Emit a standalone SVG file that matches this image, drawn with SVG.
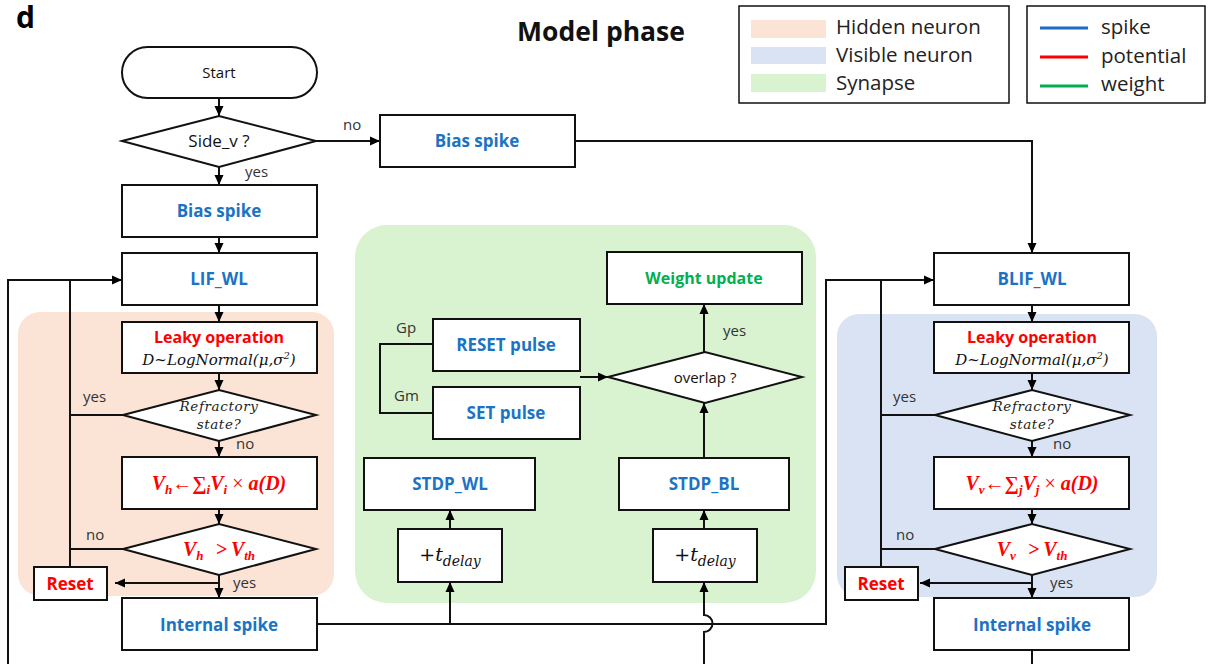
<svg xmlns="http://www.w3.org/2000/svg" width="1210" height="664" viewBox="0 0 1210 664">
<defs>
<marker id="ah" viewBox="0 0 10 10" refX="10" refY="5" markerWidth="10" markerHeight="10" markerUnits="userSpaceOnUse" orient="auto">
<path d="M0,0.5 L10,5 L0,9.5 Z" fill="#000"/>
</marker>
<style>
.box{fill:#fff;stroke:#111;stroke-width:2}
.ln{fill:none;stroke:#111;stroke-width:2}
.ar{fill:none;stroke:#111;stroke-width:2;marker-end:url(#ah)}
.sans{font-family:"Open Sans","Noto Sans","Liberation Sans",sans-serif}
.blue{font-family:"Open Sans","Noto Sans","Liberation Sans",sans-serif;font-weight:700;font-size:17px;fill:#1c73c4;text-anchor:middle}
.red{font-family:"Open Sans","Noto Sans","Liberation Sans",sans-serif;font-weight:700;font-size:16px;fill:#ff0000;text-anchor:middle}
.grn{font-family:"Open Sans","Noto Sans","Liberation Sans",sans-serif;font-weight:700;font-size:16px;fill:#00b050;text-anchor:middle}
.lbl{font-family:"Open Sans","Noto Sans","Liberation Sans",sans-serif;font-size:15px;fill:#333}
.blk{font-family:"Open Sans","Noto Sans","Liberation Sans",sans-serif;font-size:15px;fill:#111;text-anchor:middle}
.math{font-family:"DejaVu Serif","Liberation Serif",serif;font-style:italic;font-size:15px;fill:#111;text-anchor:middle}
.refr{font-family:"DejaVu Serif","Liberation Serif",serif;font-style:italic;font-size:13.5px;letter-spacing:0.6px;fill:#222;text-anchor:middle}
.tdl{font-family:"DejaVu Serif","Liberation Serif",serif;font-size:19px;fill:#111;text-anchor:middle}
.rmath{font-family:"Liberation Serif","DejaVu Serif",serif;font-style:italic;font-weight:700;font-size:20px;fill:#ff0000;text-anchor:middle}
.leg{font-family:"Open Sans","Noto Sans","Liberation Sans",sans-serif;font-size:20.5px;fill:#222}
.rst{font-family:"Open Sans","Noto Sans","Liberation Sans",sans-serif;font-weight:700;font-size:17px;fill:#ff0000;text-anchor:middle}
</style>
</defs>
<rect width="1210" height="664" fill="#fff"/>

<g id="panel-letter"><text x="16" y="28" class="sans" style="font-size:30px;font-weight:700" fill="#000">d</text></g>
<g id="title"><text x="601" y="41" class="sans" style="font-size:26.5px;font-weight:700" fill="#111" text-anchor="middle">Model phase</text></g>

<g id="legend-regions">
<rect x="739" y="6" width="270" height="97" fill="#fff" stroke="#111" stroke-width="1.5"/>
<rect x="751" y="20" width="75" height="18" fill="#fbe3d6"/>
<rect x="751" y="47" width="75" height="17" fill="#dae3f3"/>
<rect x="751" y="74" width="75" height="18" fill="#d9f2d0"/>
<text x="836" y="34" class="leg">Hidden neuron</text>
<text x="836" y="62" class="leg">Visible neuron</text>
<text x="836" y="90" class="leg">Synapse</text>
</g>
<g id="legend-lines">
<rect x="1027" y="6" width="178" height="97" fill="#fff" stroke="#111" stroke-width="1.5"/>
<line x1="1040" y1="28" x2="1088" y2="28" stroke="#1c6fc0" stroke-width="3"/>
<line x1="1040" y1="57" x2="1088" y2="57" stroke="#ff0000" stroke-width="3"/>
<line x1="1040" y1="86" x2="1088" y2="86" stroke="#00b050" stroke-width="3"/>
<text x="1101" y="34" class="leg">spike</text>
<text x="1101" y="63" class="leg">potential</text>
<text x="1101" y="91" class="leg">weight</text>
</g>

<g id="bg-hidden"><rect x="18" y="312" width="316" height="284" rx="22" fill="#fbe3d6"/></g>
<g id="bg-visible"><rect x="837" y="314" width="320" height="283" rx="22" fill="#dae3f3"/></g>
<g id="bg-synapse"><rect x="355" y="225" width="461" height="378" rx="32" fill="#d9f2d0"/></g>

<g id="connectors">
<path class="ar" d="M219,98 V116"/>
<path class="ar" d="M316,141 H380"/>
<path class="ar" d="M219,167 V185"/>
<path class="ar" d="M575,141 H1032 V253"/>
<path class="ar" d="M219,237 V253"/>
<path class="ar" d="M219,305 V322"/>
<path class="ar" d="M219,373 V390"/>
<path class="ar" d="M219,441 V457"/>
<path class="ar" d="M219,509 V524"/>
<path class="ar" d="M219,575 V598"/>
<path class="ar" d="M219,583 H115"/>
<path class="ln" d="M123,415 H70"/>
<path class="ln" d="M123,549 H70"/>
<path class="ar" d="M70,567 V280 H122"/>
<path class="ln" d="M8,664 V280 H70"/>
<path class="ar" d="M317,624 H826 V280 H934"/>
<path class="ar" d="M450,624 V582"/>
<path class="ar" d="M704,664 V632 A8.5,8.5 0 0 0 704,615 V582"/>
<path class="ar" d="M450,529 V510"/>
<path class="ar" d="M704,529 V510"/>
<path class="ar" d="M704,458 V403"/>
<path class="ar" d="M704,352 V304"/>
<path class="ar" d="M580,377 H608"/>
<path class="ln" d="M433,344 H380 V413 H433"/>
<path class="ar" d="M1032,305 V322"/>
<path class="ar" d="M1032,373 V390"/>
<path class="ar" d="M1032,441 V457"/>
<path class="ar" d="M1032,509 V524"/>
<path class="ar" d="M1032,575 V598"/>
<path class="ar" d="M1032,583 H920"/>
<path class="ln" d="M935,415 H881"/>
<path class="ln" d="M935,549 H881"/>
<path class="ln" d="M881,567 V280"/>
<path class="ln" d="M1032,650 V664"/>
<text x="343" y="130" class="lbl">no</text>
<text x="245" y="177" class="lbl">yes</text>
<text x="83" y="402" class="lbl">yes</text>
<text x="236" y="449" class="lbl">no</text>
<text x="86" y="540" class="lbl">no</text>
<text x="233" y="588" class="lbl">yes</text>
<text x="723" y="336" class="lbl">yes</text>
<text x="396" y="333" class="lbl">Gp</text>
<text x="394" y="401" class="lbl">Gm</text>
<text x="893" y="402" class="lbl">yes</text>
<text x="1053" y="449" class="lbl">no</text>
<text x="896" y="540" class="lbl">no</text>
<text x="1050" y="588" class="lbl">yes</text>
</g>

<g id="start"><rect class="box" x="122" y="47" width="195" height="51" rx="25.5"/><text x="219" y="78" class="blk">Start</text></g>
<g id="side-v"><polygon class="box" points="122,141 219,116 316,141 219,167"/><text x="219" y="147" class="blk" style="font-size:17px">Side_v ?</text></g>
<g id="bias-spike-left"><rect class="box" x="122" y="185" width="195" height="52"/><text x="219" y="217" class="blue">Bias spike</text></g>
<g id="bias-spike-right"><rect class="box" x="380" y="115" width="195" height="52"/><text x="477" y="147" class="blue">Bias spike</text></g>

<g id="lif-wl"><rect class="box" x="122" y="253" width="195" height="52"/><text x="219" y="285" class="blue">LIF_WL</text></g>
<g id="leaky-h"><rect class="box" x="122" y="322" width="195" height="51"/><text x="219" y="343" class="red">Leaky operation</text><text x="219" y="365" class="math">D~LogNormal(μ,σ<tspan style="font-size:10px" dy="-6">2</tspan><tspan dy="6">)</tspan></text></g>
<g id="refr-h"><polygon class="box" points="123,415 219,390 316,415 219,441"/><text x="219" y="411" class="refr">Refractory</text><text x="219" y="429" class="refr">state?</text></g>
<g id="vh-sum"><rect class="box" x="122" y="457" width="195" height="52"/><text x="219" y="490" class="rmath">V<tspan style="font-size:13px" dy="4">h</tspan><tspan dy="-4">←∑</tspan><tspan style="font-size:13px" dy="4">i</tspan><tspan dy="-4">V</tspan><tspan style="font-size:13px" dy="4">i</tspan><tspan dy="-4" style="font-weight:400;font-style:normal"> × </tspan><tspan>a(D)</tspan></text></g>
<g id="vh-th"><polygon class="box" points="123,549 219,524 316,549 219,575"/><text x="219" y="556" class="rmath">V<tspan style="font-size:13px" dy="4">h</tspan><tspan dy="-4" dx="12">&gt;</tspan><tspan dx="4">V</tspan><tspan style="font-size:13px" dy="4">th</tspan></text></g>
<g id="reset-h"><rect class="box" x="34" y="567" width="73" height="33"/><text x="70" y="590" class="rst">Reset</text></g>
<g id="internal-h"><rect class="box" x="122" y="598" width="195" height="52"/><text x="219" y="631" class="blue">Internal spike</text></g>

<g id="weight-update"><rect class="box" x="607" y="252" width="195" height="52"/><text x="704" y="284" class="grn">Weight update</text></g>
<g id="reset-pulse"><rect class="box" x="433" y="319" width="147" height="52"/><text x="506" y="351" class="blue">RESET pulse</text></g>
<g id="set-pulse"><rect class="box" x="433" y="387" width="147" height="52"/><text x="506" y="419" class="blue">SET pulse</text></g>
<g id="overlap"><polygon class="box" points="608,377 705,352 802,377 705,403"/><text x="705" y="383" class="blk">overlap ?</text></g>
<g id="stdp-wl"><rect class="box" x="364" y="458" width="171" height="52"/><text x="450" y="490" class="blue">STDP_WL</text></g>
<g id="stdp-bl"><rect class="box" x="619" y="458" width="170" height="52"/><text x="704" y="490" class="blue">STDP_BL</text></g>
<g id="tdelay-wl"><rect class="box" x="398" y="529" width="104" height="53"/><text x="450" y="561" class="tdl">+<tspan style="font-style:italic">t</tspan><tspan style="font-style:italic;font-size:14px" dy="5">delay</tspan></text></g>
<g id="tdelay-bl"><rect class="box" x="653" y="529" width="104" height="53"/><text x="705" y="561" class="tdl">+<tspan style="font-style:italic">t</tspan><tspan style="font-style:italic;font-size:14px" dy="5">delay</tspan></text></g>

<g id="blif-wl"><rect class="box" x="934" y="253" width="195" height="52"/><text x="1032" y="285" class="blue">BLIF_WL</text></g>
<g id="leaky-v"><rect class="box" x="934" y="322" width="195" height="51"/><text x="1032" y="343" class="red">Leaky operation</text><text x="1032" y="365" class="math">D~LogNormal(μ,σ<tspan style="font-size:10px" dy="-6">2</tspan><tspan dy="6">)</tspan></text></g>
<g id="refr-v"><polygon class="box" points="935,415 1032,390 1130,415 1032,441"/><text x="1032" y="411" class="refr">Refractory</text><text x="1032" y="429" class="refr">state?</text></g>
<g id="vv-sum"><rect class="box" x="934" y="457" width="195" height="52"/><text x="1032" y="490" class="rmath">V<tspan style="font-size:13px" dy="4">v</tspan><tspan dy="-4">←∑</tspan><tspan style="font-size:13px" dy="4">j</tspan><tspan dy="-4">V</tspan><tspan style="font-size:13px" dy="4">j</tspan><tspan dy="-4" style="font-weight:400;font-style:normal"> × </tspan><tspan>a(D)</tspan></text></g>
<g id="vv-th"><polygon class="box" points="935,549 1032,524 1130,549 1032,575"/><text x="1032" y="556" class="rmath">V<tspan style="font-size:13px" dy="4">v</tspan><tspan dy="-4" dx="12">&gt;</tspan><tspan dx="4">V</tspan><tspan style="font-size:13px" dy="4">th</tspan></text></g>
<g id="reset-v"><rect class="box" x="845" y="567" width="73" height="33"/><text x="881" y="590" class="rst">Reset</text></g>
<g id="internal-v"><rect class="box" x="934" y="598" width="195" height="52"/><text x="1032" y="631" class="blue">Internal spike</text></g>
</svg>
